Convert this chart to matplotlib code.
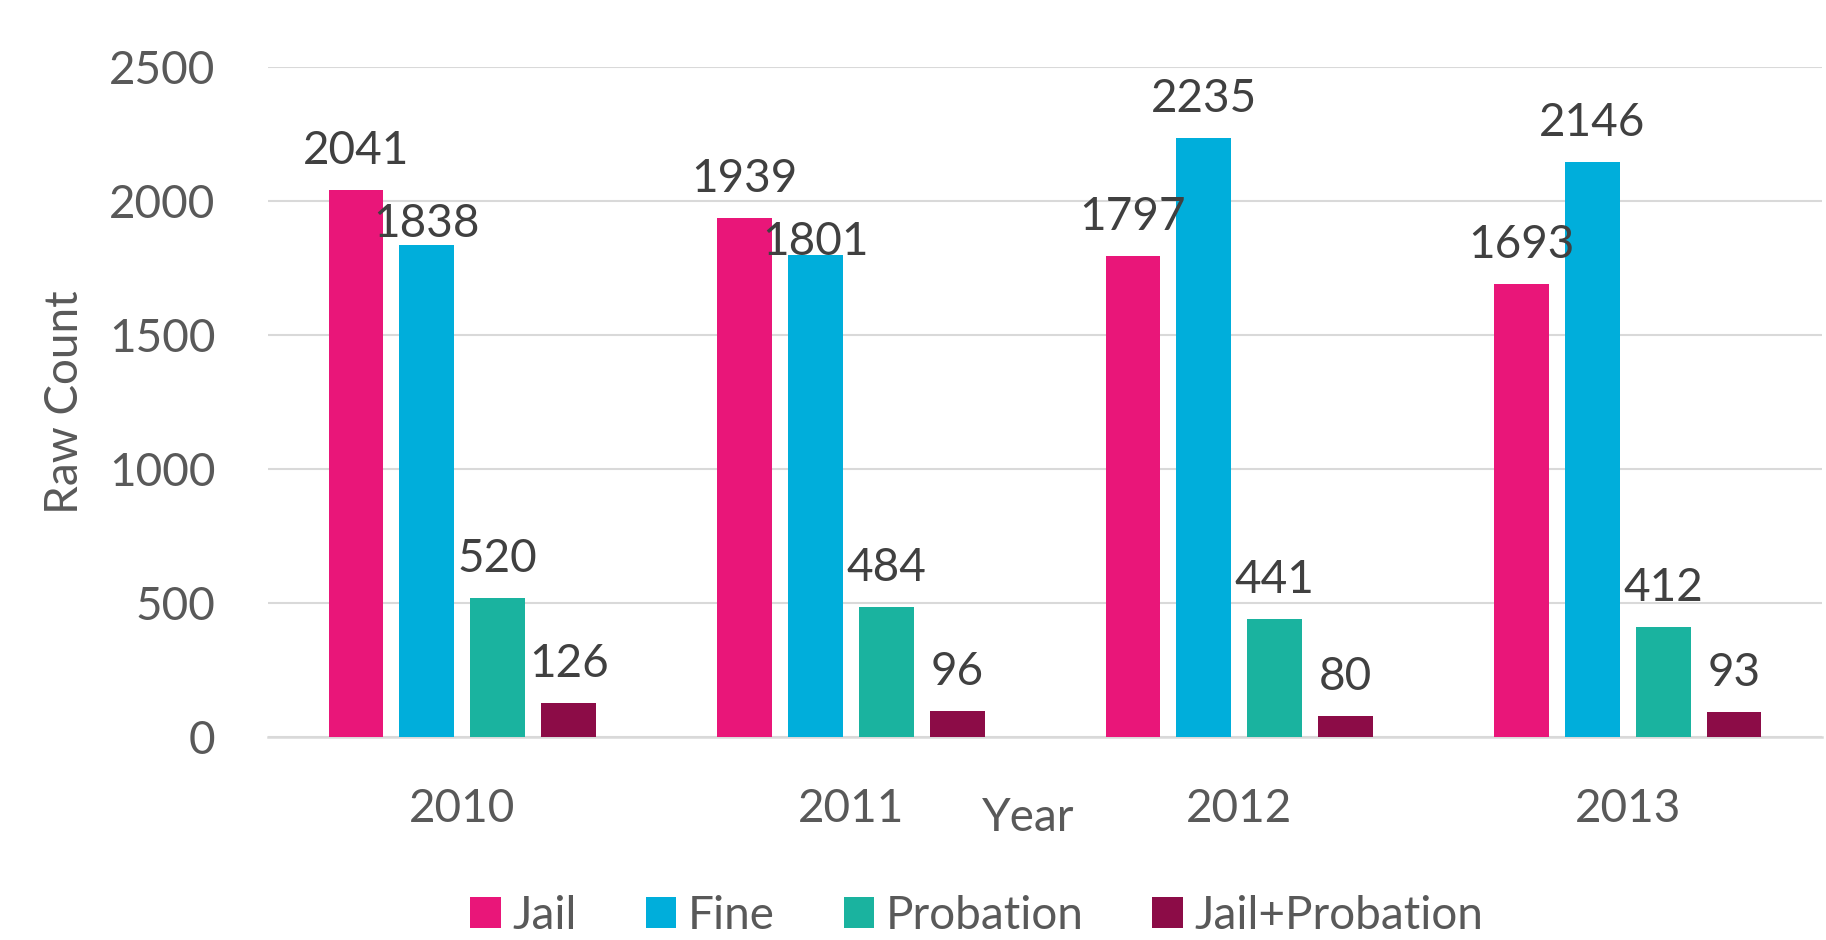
import matplotlib.pyplot as plt
import numpy as np

years = ['2010', '2011', '2012', '2013']
series = ['Jail', 'Fine', 'Probation', 'Jail+Probation']
jail = [2041, 1939, 1797, 1693]
fine = [1838, 1801, 2235, 2146]
probation = [520, 484, 441, 412]
jail_probation = [126, 96, 80, 93]
colors = ['#E91679', '#00AEDB', '#1AB39F', '#8C0C47']

plt.rcParams['font.family'] = ['Lato', 'DejaVu Sans']
fs = 33

fig = plt.figure(figsize=(18.26, 9.4), dpi=100)
ax = fig.add_axes([0.1468, 0.2160, 0.851, 0.7122])

x = np.arange(len(years))
step = 0.1826
width = 0.1407
# label offsets in points above bar top (Excel nudged a couple of them)
nudge = {(0, 1): 5.8, (1, 1): 0.0}

for i, (name, vals) in enumerate(zip(series, [jail, fine, probation, jail_probation])):
    pos = x + (i - 1.5) * step
    ax.bar(pos, vals, width, color=colors[i], label=name, zorder=3)
    for j, (px, v) in enumerate(zip(pos, vals)):
        off = nudge.get((j, i), 18.7)
        ax.annotate(str(v), (px, v), xytext=(0, off), textcoords='offset points',
                    ha='center', va='baseline', fontsize=fs, color='#404040', zorder=4)

ax.set_xlim(-0.5, 3.5)
ax.set_ylim(0, 2500)
ax.set_yticks(range(0, 2501, 500))
ax.set_xticks(x)
ax.set_xticklabels(years)
ax.yaxis.grid(True, color='#D9D9D9', linewidth=1.5, zorder=0)
ax.set_axisbelow(True)
for s in ['top', 'right', 'left']:
    ax.spines[s].set_visible(False)
ax.spines['bottom'].set_color('#D9D9D9')
ax.spines['bottom'].set_linewidth(1.8)
ax.tick_params(axis='both', length=0, labelsize=fs, labelcolor='#595959')
ax.tick_params(axis='x', pad=37)
ax.tick_params(axis='y', pad=38)

ax.set_xlabel('Year', fontsize=fs, color='#595959')
ax.xaxis.set_label_coords(0.489, -0.09)
ax.set_ylabel('Raw Count', fontsize=fs, color='#595959')
ax.yaxis.set_label_coords(-0.117, 0.5)

fig.legend(loc='center', bbox_to_anchor=(0.535, 0.026), ncol=4, frameon=False,
           fontsize=fs, handlelength=0.67, handleheight=0.67, handletextpad=0.25,
           columnspacing=1.5, labelcolor='#595959')

fig.savefig('out.png', dpi=100)
